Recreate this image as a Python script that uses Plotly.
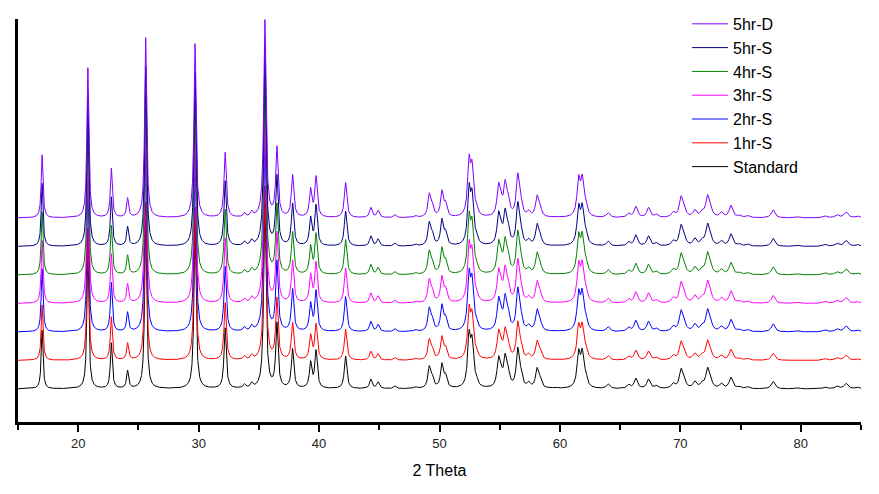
import numpy as np
import plotly.graph_objects as go

# Sample names (bottom to top) and colours
samples = ["Standard", "1hr-S", "2hr-S", "3hr-S", "4hr-S", "5hr-S", "5hr-D"]
colors = ["#000000", "#FF0000", "#0000FF", "#FF00FF", "#008000", "#000080", "#8000FF"]
# vertical stacking offsets (arb. units) and relative intensity of each pattern
offsets = [33, 61.5, 90, 118.5, 147, 175.5, 204]
scales = [0.93, 0.88, 1.0, 1.0, 1.0, 1.0, 1.0]

# Peak positions (2 theta, degrees) and intensities
peak_pos = [17.0, 20.8, 22.75, 24.1, 25.6, 29.7, 32.2, 33.8, 34.4, 35.5,
            36.5, 37.8, 39.3, 39.75, 42.2, 44.3, 44.9, 46.3, 48.0, 49.15,
            49.4, 50.2, 50.5, 52.45, 52.7, 53.05, 54.9, 55.1, 55.45, 55.7,
            56.5, 56.75, 57.4, 58.1, 58.35, 59.6, 61.55, 61.85, 62.15, 64.0,
            65.7, 66.3, 67.35, 68.0, 69.4, 70.05, 70.3, 71.2, 71.8, 72.25,
            72.5, 73.4, 74.2, 74.9, 75.6, 77.7, 79.8, 82.0, 83.0, 83.75, 84.7]
peak_int = [63, 150, 49, 19, 180, 174, 65, 4, 5, 197,
            69, 42, 27, 40, 35, 10, 7, 3, 2, 22,
            10, 25, 12, 52, 44, 7, 28, 12, 30, 14,
            40, 12, 5, 20, 8, 1, 35, 34, 10, 5,
            4, 11, 10, 3, 5, 19, 8, 7, 5, 20,
            7, 5, 12, 2, 2, 8, 1, 2, 3, 6, 2]

x = np.linspace(15, 85, 4201)


def pattern(scale):
    y = np.zeros_like(x)
    for p, h in zip(peak_pos, peak_int):
        w = 0.085 + 0.0015 * (p - 15)  # half width at half maximum
        y += h * scale * (w * w) / ((x - p) ** 2 + w * w)
    return y


fig = go.Figure()
for name, col, off, sc in zip(samples, colors, offsets, scales):
    fig.add_trace(go.Scatter(x=x, y=pattern(sc) + off, mode="lines", name=name,
                             line=dict(color=col, width=1)))

fig.update_layout(
    width=879, height=494,
    margin=dict(l=18, r=18, t=19, b=72, autoexpand=False),
    plot_bgcolor="white", paper_bgcolor="white",
    showlegend=True,
    legend=dict(traceorder="reversed", xref="container", yref="container",
                x=0.7816, y=0.986, xanchor="left", yanchor="top",
                bgcolor="rgba(0,0,0,0)", font=dict(family="Liberation Sans, Arial", size=16, color="#000"),
                itemwidth=36, tracegroupgap=0),
    xaxis=dict(range=[15, 85], showgrid=False, zeroline=False, showline=True,
               linecolor="black", linewidth=3, ticks="outside", ticklen=7, tickwidth=2,
               tickcolor="black", tick0=0, dtick=10,
               minor=dict(ticks="outside", dtick=5, tick0=15, ticklen=5, tickwidth=2, tickcolor="black"),
               tickfont=dict(family="Liberation Sans Narrow, Liberation Sans, Arial", size=13, color="#222"),
               title=dict(text="2 Theta", font=dict(family="Liberation Sans, Arial", size=16, color="#000"),
                          standoff=16)),
    yaxis=dict(range=[0, 403], showgrid=False, zeroline=False, showline=True,
               linecolor="black", linewidth=3, showticklabels=False, ticks=""),
)

fig.write_html("out.html")
